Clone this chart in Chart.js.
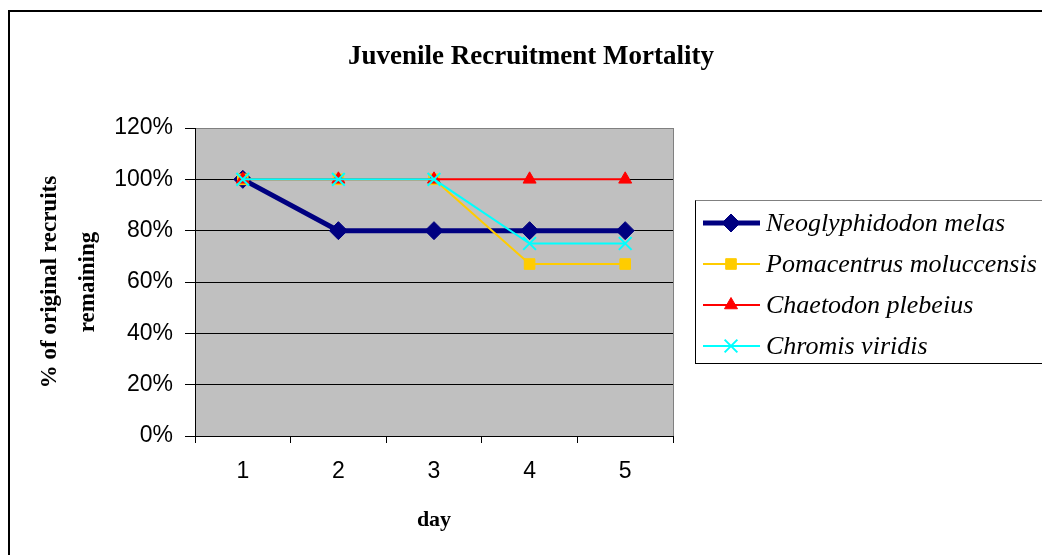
<!DOCTYPE html>
<html>
<head>
<meta charset="utf-8">
<script src="https://cdn.jsdelivr.net/npm/chart.js"></script>
<style>
  html, body { margin: 0; padding: 0; background: #fff; }
  #wrap { width: 1042px; height: 555px; position: relative; }
</style>
</head>
<body>
<div id="wrap"><canvas id="mortalityChart" width="1042" height="555"></canvas></div>
<script>
// values (% of original recruits remaining)
const days = ["1", "2", "3", "4", "5"];
const neoglyphidodon = [100, 80, 80, 80, 80];
const pomacentrus = [100, 100, 100, 67, 67];
const chaetodon = [100, 100, 100, 100, 100];
const chromis = [100, 100, 100, 75, 75];
const seriesNames = ["Neoglyphidodon melas", "Pomacentrus moluccensis", "Chaetodon plebeius", "Chromis viridis"];

const serif = "'Liberation Serif', 'Times New Roman', serif";
const sans = "'Liberation Sans', Arial, sans-serif";

// grey plot area + outer frame, like the old Excel chart
const plotBackground = {
  id: "plotBackground",
  beforeDraw(chart) {
    const { ctx, chartArea: a } = chart;
    ctx.save();
    ctx.fillStyle = "#fff";
    ctx.fillRect(0, 0, chart.width, chart.height);
    ctx.lineWidth = 2;
    ctx.strokeStyle = "#000";
    ctx.strokeRect(9, 11, 2000, 2000);
    ctx.fillStyle = "#c0c0c0";
    ctx.fillRect(a.left, a.top, a.right - a.left, a.bottom - a.top);
    ctx.lineWidth = 1;
    ctx.strokeStyle = "#808080";
    ctx.beginPath();
    ctx.moveTo(Math.round(a.right) + 0.5, a.top);
    ctx.lineTo(Math.round(a.right) + 0.5, a.bottom);
    ctx.stroke();
    ctx.restore();
  }
};

// boxed legend with line + marker samples
const boxLegend = {
  id: "boxLegend",
  afterDraw(chart) {
    const { ctx } = chart;
    const x0 = 695.5, y0 = 200.5, h = 163;
    ctx.save();
    ctx.lineWidth = 1;
    ctx.strokeStyle = "#000";
    ctx.strokeRect(x0, y0, 500, h);
    ctx.strokeStyle = "#808080";
    ctx.beginPath();
    ctx.moveTo(x0, y0);
    ctx.lineTo(1042, y0);
    ctx.stroke();
    chart.data.datasets.forEach((ds, i) => {
      const y = 223 + i * 41;
      ctx.strokeStyle = ds.borderColor;
      ctx.lineWidth = ds.borderWidth;
      ctx.beginPath();
      ctx.moveTo(703, y);
      ctx.lineTo(760, y);
      ctx.stroke();
      ctx.fillStyle = ds.pointBackgroundColor;
      ctx.strokeStyle = ds.pointBorderColor;
      ctx.lineWidth = ds.pointBorderWidth;
      if (Chart.helpers && Chart.helpers.drawPoint) {
        Chart.helpers.drawPoint(ctx, { pointStyle: ds.pointStyle, radius: ds.pointRadius, borderWidth: ds.pointBorderWidth, rotation: 0 }, 731, y);
      }
      ctx.fillStyle = "#000";
      ctx.font = "italic 26px " + serif;
      ctx.textAlign = "left";
      ctx.textBaseline = "middle";
      ctx.fillText(ds.label, 766, y + 1);
    });
    ctx.restore();
  }
};

new Chart(document.getElementById("mortalityChart"), {
  type: "line",
  data: {
    labels: days,
    datasets: [
      { label: seriesNames[0], data: neoglyphidodon, order: 4, borderColor: "#000080", borderWidth: 5,
        pointStyle: "rectRot", pointRadius: 9, pointBackgroundColor: "#000080", pointBorderColor: "#000080", pointBorderWidth: 1 },
      { label: seriesNames[1], data: pomacentrus, order: 3, borderColor: "#ffcc00", borderWidth: 2,
        pointStyle: "rect", pointRadius: 7.5, pointBackgroundColor: "#ffcc00", pointBorderColor: "#ffcc00", pointBorderWidth: 1 },
      { label: seriesNames[2], data: chaetodon, order: 2, borderColor: "#ff0000", borderWidth: 2,
        pointStyle: "triangle", pointRadius: 7.5, pointBackgroundColor: "#ff0000", pointBorderColor: "#ff0000", pointBorderWidth: 1 },
      { label: seriesNames[3], data: chromis, order: 1, borderColor: "#00ffff", borderWidth: 2,
        pointStyle: "crossRot", pointRadius: 9, pointBackgroundColor: "#00ffff", pointBorderColor: "#00ffff", pointBorderWidth: 2 }
    ]
  },
  options: {
    responsive: false,
    animation: false,
    tension: 0,
    layout: { padding: { left: 20, right: 0, top: 0, bottom: 0 } },
    plugins: {
      legend: { display: false },
      tooltip: { enabled: false },
      title: {
        display: true,
        text: "Juvenile Recruitment Mortality",
        color: "#000",
        font: { family: serif, size: 27, weight: "bold", lineHeight: 1.2 },
        padding: { top: 41, bottom: 54.6 }
      }
    },
    scales: {
      x: {
        type: "category",
        offset: true,
        grid: { offset: true, drawOnChartArea: false, drawTicks: true, tickLength: 7, color: "#000" },
        border: { display: true, color: "#000", width: 1 },
        ticks: { color: "#000", font: { family: sans, size: 23 }, padding: 15, maxRotation: 0 },
        title: {
          display: true, text: "day", color: "#000",
          font: { family: serif, size: 22, weight: "bold", lineHeight: 1.2 },
          padding: { top: 0, bottom: 21.8 }
        },
        afterFit(scale) { scale.height = 119; }
      },
      y: {
        min: 0,
        max: 120,
        ticks: { stepSize: 20, color: "#000", font: { family: sans, size: 23 }, padding: 12,
          callback: v => v + "%" },
        grid: { color: ctx => ctx.tick && ctx.tick.value === 120 ? "#808080" : "#000", tickColor: "#000", tickLength: 10, lineWidth: 1 },
        border: { display: true, color: "#000", width: 1 },
        title: {
          display: true, text: ["% of original recruits", "remaining"], color: "#000",
          font: { family: serif, size: 23, weight: "bold", lineHeight: 1.65 },
          padding: { top: 11, bottom: 0 }
        },
        afterFit(scale) { scale.width = 175; }
      },
      legendSpace: {
        type: "linear",
        position: "right",
        grid: { display: false },
        border: { display: false },
        ticks: { display: false },
        afterFit(scale) { scale.width = 369; }
      }
    }
  },
  plugins: [plotBackground, boxLegend]
});
</script>
</body>
</html>
